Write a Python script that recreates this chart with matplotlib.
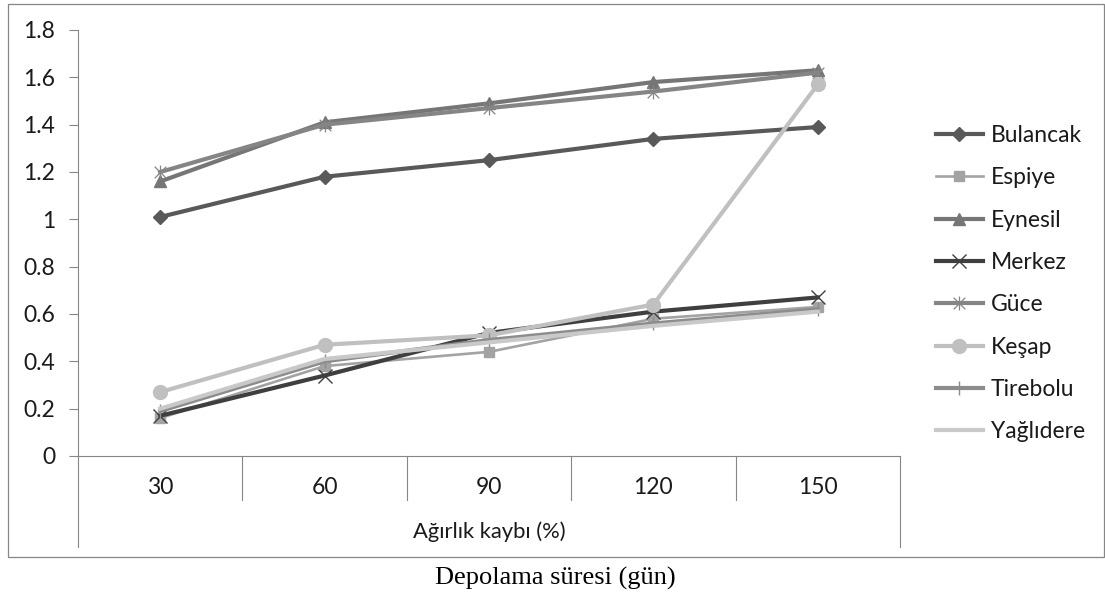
import numpy as np
import matplotlib
matplotlib.use("Agg")
import matplotlib.pyplot as plt
import matplotlib.patches as patches
from matplotlib.path import Path
from matplotlib.lines import Line2D

# storage days and weight loss per district
days = ['30', '60', '90', '120', '150']
bulancak = [1.01, 1.18, 1.25, 1.34, 1.39]
espiye = [0.16, 0.38, 0.44, 0.58, 0.63]
eynesil = [1.16, 1.41, 1.49, 1.58, 1.63]
merkez = [0.17, 0.34, 0.52, 0.61, 0.67]
guce = [1.20, 1.40, 1.47, 1.54, 1.62]
kesap = [0.27, 0.47, 0.51, 0.64, 1.57]
tirebolu = [0.19, 0.40, 0.49, 0.56, 0.62]
yaglidere = [0.20, 0.41, 0.48, 0.55, 0.61]

y_ticks = [0, 0.2, 0.4, 0.6, 0.8, 1.0, 1.2, 1.4, 1.6, 1.8]
y_labels = ['0', '0.2', '0.4', '0.6', '0.8', '1', '1.2', '1.4', '1.6', '1.8']

# excel-style "star" marker: an x with a vertical bar through it
star_path = Path(
    [(-1, -1), (1, 1), (-1, 1), (1, -1), (0, -1.2), (0, 1.2)],
    [Path.MOVETO, Path.LINETO, Path.MOVETO, Path.LINETO, Path.MOVETO, Path.LINETO],
)

W, H = 1105, 593
fig = plt.figure(figsize=(W / 100, H / 100), dpi=100)
fig.patch.set_facecolor('white')

# plot area in pixels: x 78..900, y 30..456
ax = fig.add_axes([78 / W, (H - 456) / H, 822 / W, 426 / H])

x = np.arange(len(days))
lw = 3.0
series = [
    ('Bulancak', bulancak, dict(color='#595959', marker='D', ms=7.5, lw=lw)),
    ('Espiye', espiye, dict(color='#a3a3a3', marker='s', ms=6.5, lw=1.9)),
    ('Eynesil', eynesil, dict(color='#767676', marker='^', ms=9, lw=lw)),
    ('Merkez', merkez, dict(color='#3f3f3f', marker='x', ms=10, mew=1.0, lw=lw)),
    ('Güce', guce, dict(color='#858585', marker=star_path, ms=10, mew=0.9, lw=lw)),
    ('Keşap', kesap, dict(color='#c0c0c0', marker='o', ms=10, lw=lw)),
    ('Tirebolu', tirebolu, dict(color='#8c8c8c', marker='|', ms=10, mew=1.0, lw=lw)),
    ('Yağlıdere', yaglidere, dict(color='#c9c9c9', marker=None, lw=lw)),
]
for name, vals, st in series:
    ax.plot(x, vals, label=name, solid_joinstyle='miter', **st)

ax.set_xlim(-0.5, len(days) - 0.5)
ax.set_ylim(0, 1.8)
ax.set_yticks(y_ticks)
ax.set_yticklabels(y_labels, fontsize=16.5, color='#1a1a1a', family='Lato')
ax.tick_params(axis='y', length=6.5, width=0.8, color='#868686', pad=10)
ax.set_xticks([])
for s in ['top', 'right']:
    ax.spines[s].set_visible(False)
for s in ['left', 'bottom']:
    ax.spines[s].set_color('#868686')
    ax.spines[s].set_linewidth(0.8)

# category table under the plot
tr = ax.get_xaxis_transform()
for i, d in enumerate(days):
    ax.text(i, -32 / 426, d, transform=tr, ha='center', va='center',
            fontsize=16.5, color='#1a1a1a', family='Lato')
for b in np.arange(0.5, len(days) - 1, 1.0):
    ax.add_line(Line2D([b, b], [0, -44 / 426], transform=tr, color='#868686',
                       lw=0.8, clip_on=False))
for b in [-0.5, len(days) - 0.5]:
    ax.add_line(Line2D([b, b], [0, -91 / 426], transform=tr, color='#868686',
                       lw=0.8, clip_on=False))
ax.text(0.5, -76 / 426, 'Ağırlık kaybı (%)', transform=ax.transAxes,
        ha='center', va='center', fontsize=15.8, color='#1a1a1a', family='Lato')

leg = ax.legend(loc='upper left', bbox_to_anchor=(936 / W, (H - 125) / H),
                bbox_transform=fig.transFigure, frameon=False,
                prop=dict(family='Lato', size=16.5), handlelength=2.05,
                handletextpad=0.35, labelspacing=0.93, borderaxespad=0,
                borderpad=0)
for t in leg.get_texts():
    t.set_color('#1a1a1a')

# outer chart border
fig.add_artist(patches.Rectangle((8 / W, (H - 557) / H), 1096 / W, 553 / H,
                                 transform=fig.transFigure, fill=False,
                                 edgecolor='#868686', lw=0.9))

fig.text(555 / W, (H - 578) / H, 'Depolama süresi (gün)', ha='center',
         va='center', fontsize=19, family='Liberation Serif', color='black')

fig.savefig('out.png', dpi=100)
